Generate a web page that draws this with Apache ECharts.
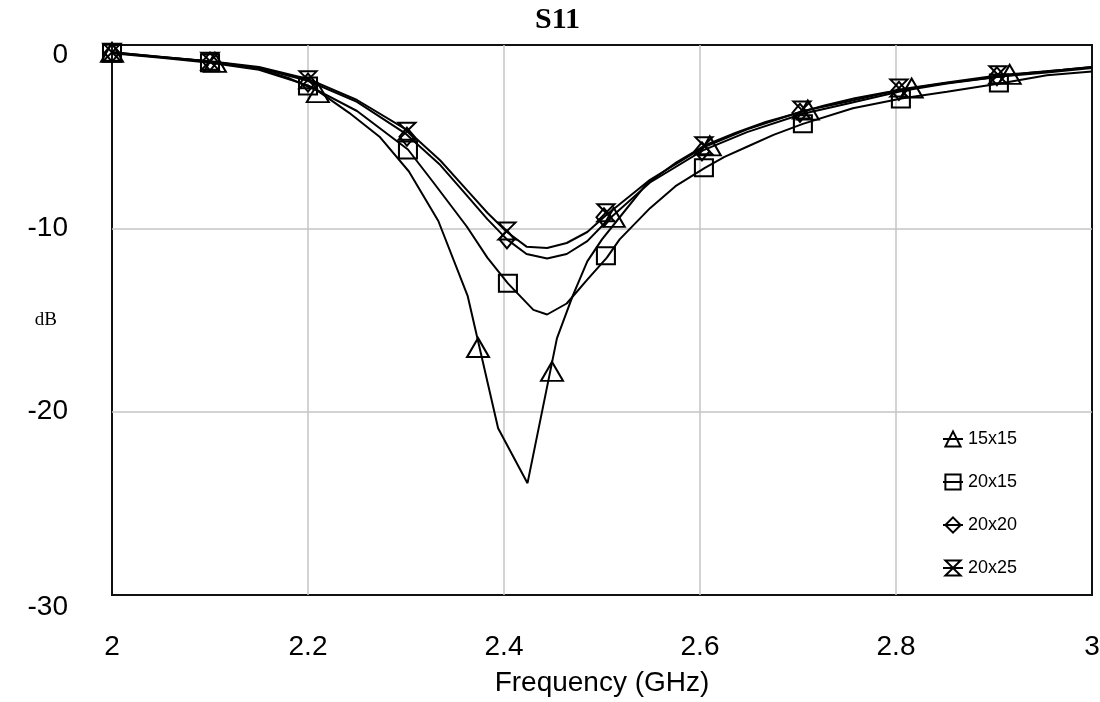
<!DOCTYPE html>
<html>
<head>
<meta charset="utf-8">
<script src="https://cdn.jsdelivr.net/npm/echarts@6/dist/echarts.min.js"></script>
<style>
  html, body { margin: 0; padding: 0; background: #fff; }
  #chart { width: 1100px; height: 702px; }
</style>
</head>
<body>
<div id="chart"></div>
<script>
// curve samples (GHz, dB)
var f15 = [2.0, 2.03, 2.06, 2.09, 2.12, 2.15, 2.18, 2.21, 2.242, 2.273, 2.303, 2.333, 2.363, 2.394, 2.424, 2.454, 2.47, 2.485, 2.5, 2.515, 2.545, 2.576, 2.606, 2.636, 2.667, 2.697, 2.727, 2.758, 2.788, 2.818, 2.848, 2.879, 2.909, 2.939, 2.97, 3.0];
var db15 = [-0.4, -0.55, -0.7, -0.85, -1.05, -1.3, -1.8, -2.5, -3.7, -5.0, -6.9, -9.6, -13.7, -20.9, -23.9, -16.0, -13.7, -11.8, -10.6, -9.6, -7.6, -6.4, -5.45, -4.8, -4.2, -3.75, -3.3, -2.9, -2.6, -2.35, -2.1, -1.9, -1.7, -1.5, -1.35, -1.2];

var f2015 = [2.0, 2.05, 2.1, 2.15, 2.2, 2.25, 2.302, 2.328, 2.362, 2.383, 2.404, 2.43, 2.444, 2.464, 2.485, 2.505, 2.518, 2.549, 2.575, 2.605, 2.625, 2.648, 2.675, 2.705, 2.756, 2.807, 2.852, 2.909, 2.954, 3.0];
var db2015 = [-0.45, -0.7, -0.97, -1.35, -2.2, -3.6, -5.7, -7.5, -9.9, -11.6, -13.0, -14.45, -14.7, -14.1, -12.8, -11.6, -10.6, -8.9, -7.7, -6.7, -6.1, -5.55, -4.9, -4.3, -3.45, -2.9, -2.55, -2.07, -1.65, -1.45];

var f2020 = [2.0, 2.05, 2.1, 2.15, 2.2, 2.25, 2.3, 2.335, 2.362, 2.383, 2.403, 2.423, 2.444, 2.464, 2.485, 2.505, 2.549, 2.603, 2.648, 2.705, 2.75, 2.807, 2.852, 2.909, 2.954, 3.0];
var db2020 = [-0.42, -0.67, -0.9, -1.25, -1.95, -3.1, -4.85, -6.55, -8.2, -9.5, -10.6, -11.4, -11.65, -11.4, -10.7, -9.6, -7.5, -5.75, -4.75, -3.75, -3.2, -2.5, -2.1, -1.7, -1.5, -1.25];

var f2025 = [2.0, 2.05, 2.1, 2.15, 2.2, 2.25, 2.3, 2.335, 2.362, 2.383, 2.403, 2.423, 2.444, 2.464, 2.485, 2.505, 2.549, 2.603, 2.648, 2.705, 2.75, 2.807, 2.852, 2.909, 2.954, 3.0];
var db2025 = [-0.4, -0.65, -0.88, -1.2, -1.85, -3.0, -4.6, -6.3, -7.9, -9.15, -10.2, -11.0, -11.07, -10.8, -10.2, -9.25, -7.35, -5.6, -4.6, -3.6, -3.1, -2.4, -2.05, -1.62, -1.45, -1.2];

// marker positions
var mf15 = [2.0, 2.105, 2.21, 2.3735, 2.449, 2.512, 2.61, 2.71, 2.816, 2.916];
var mdb15 = [-0.4, -0.95, -2.6, -16.5, -17.8, -9.4, -5.5, -3.55, -2.35, -1.6];
var mf2015 = [2.0, 2.1, 2.2, 2.302, 2.404, 2.504, 2.604, 2.705, 2.805, 2.905];
var mdb2015 = [-0.45, -0.97, -2.24, -5.73, -13.0, -11.5, -6.7, -4.3, -2.95, -2.07];
var mf2020 = [2.0, 2.1, 2.2, 2.301, 2.403, 2.502, 2.602, 2.702, 2.803, 2.903];
var mdb2020 = [-0.42, -0.9, -2.05, -5.0, -10.6, -9.4, -5.8, -3.7, -2.5, -1.7];
var mf2025 = [2.0, 2.1, 2.2, 2.301, 2.403, 2.504, 2.604, 2.704, 2.803, 2.904];
var mdb2025 = [-0.4, -0.88, -1.9, -4.7, -10.15, -9.15, -5.5, -3.55, -2.35, -1.62];

var names = ['15x15', '20x15', '20x20', '20x25'];
var yTicks = [0, -10, -20, -30];

var hourglass = 'path://M0,0 L10,0 L0,10 L10,10 Z';
var labelFont = { fontFamily: 'Liberation Sans', fontSize: 28, color: '#000' };

function pairs(xs, ys) {
    return xs.map(function (x, i) { return [x, ys[i]]; });
}

function curve(name, xs, ys, symbol) {
    return {
        name: name,
        type: 'line',
        data: pairs(xs, ys),
        showSymbol: false,
        symbol: symbol,
        lineStyle: { color: '#000', width: 2 },
        itemStyle: { color: 'rgba(0,0,0,0)', borderColor: '#000', borderWidth: 2 },
        emphasis: { disabled: true },
        z: 2
    };
}

function marks(name, xs, ys, symbol, size) {
    return {
        name: name,
        type: 'scatter',
        data: pairs(xs, ys),
        symbol: symbol,
        symbolSize: size,
        itemStyle: { color: 'rgba(0,0,0,0)', borderColor: '#000', borderWidth: 2, opacity: 1 },
        emphasis: { disabled: true },
        z: 3
    };
}

var option = {
    backgroundColor: '#fff',
    animation: false,
    title: {
        text: 'S11',
        left: 530,
        top: 0,
        textStyle: { fontFamily: 'Liberation Serif', fontWeight: 'bold', fontSize: 30, color: '#000' }
    },
    legend: {
        data: names,
        orient: 'vertical',
        left: 937,
        top: 425,
        itemWidth: 20,
        itemHeight: 19,
        itemGap: 25,
        textStyle: { fontFamily: 'Liberation Sans', fontSize: 18, color: '#000' }
    },
    grid: {
        left: 112,
        right: 8,
        top: 45,
        bottom: 107,
        outerBoundsMode: 'none',
        show: true,
        borderColor: '#111',
        borderWidth: 2
    },
    xAxis: {
        type: 'value',
        min: 2,
        max: 3,
        interval: 0.2,
        name: 'Frequency (GHz)',
        nameLocation: 'middle',
        nameGap: 74,
        nameMoveOverlap: false,
        nameTextStyle: labelFont,
        axisLine: { show: false },
        axisTick: { show: false },
        axisLabel: Object.assign({ margin: 38 }, labelFont),
        splitLine: { showMinLine: false, showMaxLine: false, lineStyle: { color: '#c4c4c4', width: 1.5 } }
    },
    yAxis: {
        type: 'value',
        min: -30,
        max: 0,
        interval: 10,
        name: 'dB',
        nameLocation: 'middle',
        nameRotate: 0,
        nameGap: 55,
        nameMoveOverlap: false,
        nameTextStyle: { fontFamily: 'Liberation Serif', fontSize: 19, color: '#000' },
        axisLine: { show: false },
        axisTick: { show: false },
        axisLabel: Object.assign({
            margin: 44,
            formatter: function (v) {
                if (v === yTicks[0]) return '{t|' + v + '}';
                if (v === yTicks[3]) return '{b|' + v + '}';
                return String(v);
            },
            rich: {
                t: Object.assign({ padding: [20, 0, 0, 0] }, labelFont),
                b: Object.assign({ padding: [24, 0, 0, 0] }, labelFont)
            }
        }, labelFont),
        splitLine: { showMinLine: false, showMaxLine: false, lineStyle: { color: '#c4c4c4', width: 1.5 } }
    },
    series: [
        curve(names[0], f15, db15, 'triangle'),
        curve(names[1], f2015, db2015, 'rect'),
        curve(names[2], f2020, db2020, 'diamond'),
        curve(names[3], f2025, db2025, hourglass),
        marks(names[0], mf15, mdb15, 'triangle', [22, 19]),
        marks(names[1], mf2015, mdb2015, 'rect', [18, 17]),
        marks(names[2], mf2020, mdb2020, 'diamond', [15, 18]),
        marks(names[3], mf2025, mdb2025, hourglass, [17, 17])
    ]
};

echarts.init(document.getElementById('chart')).setOption(option);
</script>
</body>
</html>
